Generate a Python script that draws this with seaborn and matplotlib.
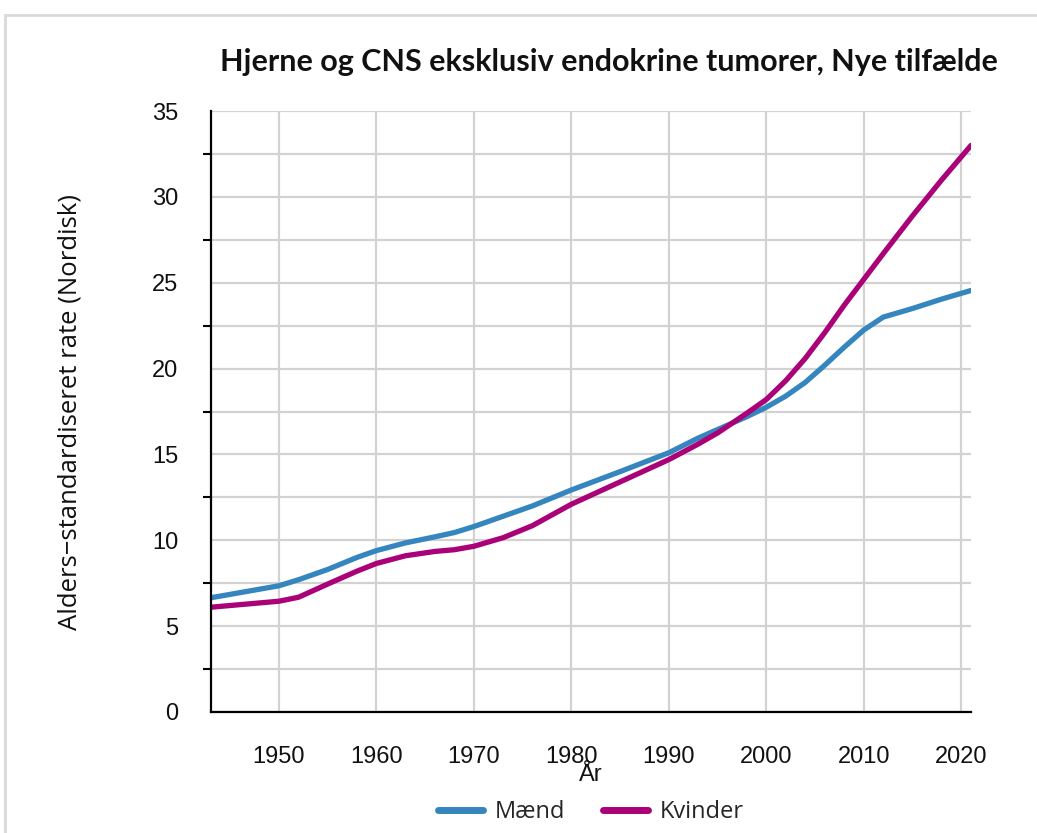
import matplotlib
matplotlib.use("Agg")
import matplotlib.pyplot as plt
import pandas as pd
import seaborn as sns
from matplotlib.patches import Rectangle
from matplotlib.ticker import MultipleLocator

sns.set_theme(style="white")

YEARS = [1943, 1946, 1950, 1952, 1955, 1958, 1960, 1963, 1966, 1968, 1970,
         1973, 1976, 1980, 1985, 1990, 1993, 1995, 1998, 2000, 2002, 2004,
         2006, 2008, 2010, 2012, 2015, 2018, 2021]
MAEND = [6.65, 6.95, 7.35, 7.7, 8.3, 9.0, 9.4, 9.85, 10.2, 10.45, 10.8,
         11.4, 12.0, 12.93, 14.0, 15.1, 15.95, 16.45, 17.2, 17.75, 18.4, 19.2,
         20.2, 21.25, 22.25, 23.0, 23.5, 24.05, 24.55]
KVINDER = [6.1, 6.25, 6.45, 6.68, 7.45, 8.2, 8.65, 9.1, 9.35, 9.45, 9.65,
           10.15, 10.85, 12.1, 13.4, 14.7, 15.6, 16.25, 17.4, 18.2, 19.3, 20.6,
           22.1, 23.7, 25.2, 26.7, 28.9, 31.0, 33.0]
SERIES = ["Mænd", "Kvinder"]
COLORS = {"Mænd": "#3585BF", "Kvinder": "#AA0078"}

TITLE = "Hjerne og CNS eksklusiv endokrine tumorer, Nye tilfælde"
YLABEL = "Alders\u2212standardiseret rate (Nordisk)"
XLABEL = "År"

df = pd.DataFrame({
    "year": YEARS * 2,
    "rate": MAEND + KVINDER,
    "sex": ["Mænd"] * len(YEARS) + ["Kvinder"] * len(YEARS),
})

fig = plt.figure(figsize=(10.37, 8.33), dpi=100)
ax = fig.add_axes([0.2032, 0.1453, 0.7332, 0.7214])

sns.lineplot(data=df, x="year", y="rate", hue="sex", hue_order=SERIES,
             palette=COLORS, linewidth=3.8, ax=ax, legend=False)

ax.set_xlim(1943, 2021)
ax.set_ylim(0, 35)
ax.xaxis.set_major_locator(MultipleLocator(10))
ax.yaxis.set_major_locator(MultipleLocator(5))
ax.yaxis.set_minor_locator(MultipleLocator(2.5))

ax.grid(True, which="both", color="#d2d2d2", linewidth=1.6)
ax.set_axisbelow(True)
for side in ["top", "right"]:
    ax.spines[side].set_visible(False)
for side in ["left", "bottom"]:
    ax.spines[side].set_color("black")
    ax.spines[side].set_linewidth(1.6)

ax.tick_params(axis="both", which="major", length=11.5, width=1.5, color="black",
               labelsize=17, labelcolor="#111111")
ax.tick_params(axis="y", which="major", pad=12)
ax.tick_params(axis="x", which="major", pad=13)
ax.tick_params(axis="y", which="minor", length=5.5, width=1.5, color="black", left=True)
for lab in ax.get_xticklabels() + ax.get_yticklabels():
    lab.set_family("Liberation Sans")

ax.set_xlabel(XLABEL, fontsize=17, family="Liberation Sans", labelpad=-3, color="#111111")
ax.set_ylabel(YLABEL, fontsize=18.5, family="Open Sans", labelpad=50, color="#111111")

fig.text(0.587, 0.9256, TITLE, ha="center", va="center", fontsize=22,
         fontweight="bold", family="Lato", color="#111111")

handles = [plt.Line2D([], [], color=COLORS[s], linewidth=5) for s in SERIES]
fig.legend(handles, SERIES, loc="center", bbox_to_anchor=(0.57, 0.025), ncol=2,
           frameon=False, prop={"family": "Open Sans", "size": 17},
           handlelength=1.9, columnspacing=1.6, handletextpad=0.5)

fig.add_artist(Rectangle((5 / 1037, -0.1), 1.2, 1.1 - 15 / 833,
                         transform=fig.transFigure, fill=False,
                         edgecolor="#d9d9d9", linewidth=2))

fig.savefig("out.png", dpi=100)
